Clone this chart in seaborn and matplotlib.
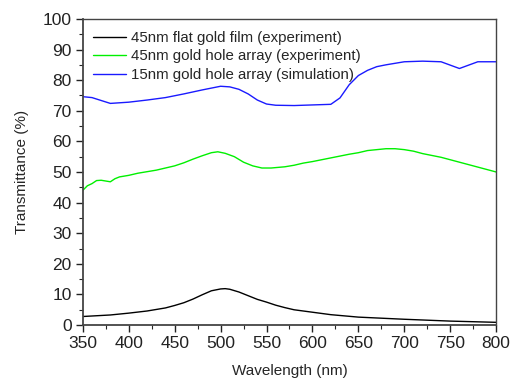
import numpy as np
import pandas as pd
import matplotlib
matplotlib.use("Agg")
import matplotlib.pyplot as plt
import seaborn as sns
from matplotlib.ticker import MultipleLocator

# flat film (experiment)
flat_wl = [350, 380, 400, 420, 440, 450, 460, 470, 480, 490, 500, 505, 510, 520, 530,
           540, 550, 560, 570, 580, 600, 620, 650, 700, 750, 800]
flat_t = [2.8, 3.3, 3.9, 4.6, 5.6, 6.4, 7.3, 8.5, 9.9, 11.2, 11.8, 11.9, 11.7, 10.8, 9.6,
          8.4, 7.5, 6.5, 5.7, 5.0, 4.2, 3.4, 2.6, 1.9, 1.3, 0.9]

# 45nm hole array (experiment)
hole_wl = [350, 355, 360, 365, 370, 380, 385, 390, 400, 410, 420, 430, 440, 450, 460,
           470, 480, 490, 497, 505, 515, 525, 535, 545, 555, 570, 580, 590, 600, 610,
           620, 630, 640, 650, 660, 670, 680, 690, 700, 710, 720, 740, 760, 780, 800]
hole_t = [44.0, 45.5, 46.2, 47.2, 47.3, 46.8, 47.8, 48.4, 48.9, 49.6, 50.1, 50.6, 51.3, 52.0, 53.0,
          54.2, 55.3, 56.3, 56.6, 56.1, 55.0, 53.2, 52.0, 51.3, 51.3, 51.7, 52.2, 52.9, 53.4, 54.0,
          54.6, 55.2, 55.8, 56.3, 57.0, 57.3, 57.6, 57.6, 57.3, 56.8, 56.0, 54.8, 53.2, 51.6, 50.0]

# 15nm hole array (simulation)
sim_wl = [350, 360, 380, 400, 420, 440, 460, 480, 500, 510, 520, 530, 540, 550, 560,
          580, 600, 620, 630, 640, 650, 660, 670, 680, 690, 700, 720, 740, 760, 780, 800]
sim_t = [74.6, 74.3, 72.4, 72.8, 73.5, 74.3, 75.5, 76.8, 78.0, 77.8, 77.0, 75.5, 73.5, 72.2, 71.8,
         71.7, 71.9, 72.1, 74.2, 78.5, 81.5, 83.2, 84.4, 85.0, 85.5, 86.0, 86.2, 86.0, 83.8, 86.0, 86.0]

labels = ["45nm flat gold film (experiment)",
          "45nm gold hole array (experiment)",
          "15nm gold hole array (simulation)"]
colors = ["black", "#00f000", "#1a1aff"]

df = pd.concat([
    pd.DataFrame({"wl": flat_wl, "T": flat_t, "series": labels[0]}),
    pd.DataFrame({"wl": hole_wl, "T": hole_t, "series": labels[1]}),
    pd.DataFrame({"wl": sim_wl, "T": sim_t, "series": labels[2]}),
])

sns.set_style("ticks")
plt.rcParams["font.family"] = ["Liberation Sans", "DejaVu Sans"]

fig = plt.figure(figsize=(5.11, 3.78), dpi=100)
ax = fig.add_axes([0.162, 0.140, 0.809, 0.810])
sns.lineplot(data=df, x="wl", y="T", hue="series", hue_order=labels,
             palette=dict(zip(labels, colors)), linewidth=1.0, ax=ax, sort=True,
             estimator=None)

ax.set_xlim(350, 800)
ax.set_ylim(0, 100)
ax.xaxis.set_major_locator(MultipleLocator(50))
ax.xaxis.set_minor_locator(MultipleLocator(25))
ax.yaxis.set_major_locator(MultipleLocator(10))
ax.yaxis.set_minor_locator(MultipleLocator(5))
ax.tick_params(which="major", direction="out", length=5, width=1.0, labelsize=12.5,
               colors="#222222", pad=3)
ax.tick_params(which="minor", direction="out", length=3, width=0.8)
for s in ax.spines.values():
    s.set_linewidth(1.0)
    s.set_color("#444444")
ax.spines["left"].set_linewidth(1.3)
ax.spines["bottom"].set_linewidth(1.3)
ax.set_xlabel("Wavelength (nm)", fontsize=11, labelpad=9)
ax.set_ylabel("Transmittance (%)", fontsize=11, labelpad=10)

leg = ax.legend(loc="upper left", frameon=False, fontsize=10.8, handlelength=2.2,
                borderaxespad=0.15, borderpad=0.65, labelspacing=0.3, handletextpad=0.35,
                bbox_to_anchor=(-0.005, 1.0))

fig.savefig("out.png", dpi=100)
